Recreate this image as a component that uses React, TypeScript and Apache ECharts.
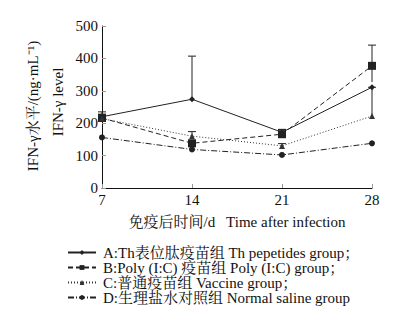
import React, { useEffect, useRef } from "react";
import * as echarts from "echarts";

const days = [7, 14, 21, 28];
const seriesNames = [
  "A:Th表位肽疫苗组 Th pepetides group；",
  "B:Poly (I:C) 疫苗组 Poly (I:C) group；",
  "C:普通疫苗组 Vaccine group；",
  "D:生理盐水对照组 Normal saline group",
];
const valuesA = [220, 274, 172, 311];
const valuesB = [216, 138, 166, 377];
const valuesC = [214, 160, 130, 222];
const valuesD = [156, 119, 102, 138];
// error bars: [day, low, high]
const errA = [[7, 220, 235], [14, 274, 407], [21, 172, 180]];
const errB = [[7, 216, 228], [21, 166, 181], [28, 327, 441]];
const errC = [[14, 160, 174], [21, 130, 137], [28, 222, 311]];
const yTicks = [0, 100, 200, 300, 400, 500];
const xTitle = "免疫后时间/d   Time after infection";
const yTitle1 = "IFN-γ水平/(ng·mL⁻¹)";
const yTitle2 = "IFN-γ level";

const FONT = "Liberation Serif, Noto Serif CJK SC, Noto Sans CJK SC, serif";

export default function App() {
  const ref = useRef<HTMLDivElement>(null);
  useEffect(() => {
    const chart = echarts.init(ref.current!, null, { renderer: "svg" });
    const lineSeries = (name: string, vals: number[], symbol: string, size: number, type: any, color: string) => ({
      name,
      type: "line",
      data: days.map((d, i) => [d, vals[i]]),
      symbol,
      symbolSize: size,
      itemStyle: { color },
      lineStyle: { color, width: 1, type },
      z: 3,
    });
    const errSeries = (data: number[][]) => ({
      type: "custom",
      data,
      z: 2,
      renderItem: (params: any, api: any) => {
        const x = api.value(0);
        const lo = api.coord([x, api.value(1)]);
        const hi = api.coord([x, api.value(2)]);
        const w = 4;
        const st = { stroke: "#222", lineWidth: 1 };
        return {
          type: "group",
          children: [
            { type: "line", shape: { x1: lo[0], y1: lo[1], x2: hi[0], y2: hi[1] }, style: st },
            { type: "line", shape: { x1: hi[0] - w, y1: hi[1], x2: hi[0] + w, y2: hi[1] }, style: st },
          ],
        };
      },
    });
    const txt = (text: string, x: number, y: number, rot: number) => ({
      type: "text",
      x,
      y,
      rotation: rot,
      style: { text, fill: "#111", font: `15px ${FONT}`, align: "center", verticalAlign: "middle" },
    });
    chart.setOption({
      animation: false,
      textStyle: { fontFamily: FONT },
      grid: { left: 102, right: 35, top: 26, bottom: 129, containLabel: false },
      graphic: [
        txt(xTitle, 237, 222, 0),
        txt(yTitle1, 33, 106, Math.PI / 2),
        txt(yTitle2, 58, 102, Math.PI / 2),
      ],
      xAxis: {
        type: "value",
        min: 7,
        max: 28,
        interval: 7,
        axisLine: { lineStyle: { color: "#111", width: 1 } },
        axisTick: { inside: true, length: 4, lineStyle: { color: "#999" } },
        axisLabel: { color: "#111", fontSize: 15, fontFamily: FONT, margin: 4 },
        splitLine: { show: false },
      },
      yAxis: {
        type: "value",
        min: 0,
        max: 500,
        interval: 100,
        axisLine: { show: true, lineStyle: { color: "#111", width: 1 } },
        axisTick: { show: true, inside: true, length: 4, lineStyle: { color: "#999" } },
        axisLabel: { color: "#111", fontSize: 15, fontFamily: FONT, margin: 4, formatter: (v: number) => (yTicks.includes(v) ? String(v) : "") },
        splitLine: { show: false },
      },
      legend: {
        orient: "vertical",
        left: 67,
        top: 245,
        itemWidth: 28,
        itemHeight: 6,
        itemGap: 0,
        padding: 0,
        data: seriesNames,
        textStyle: { color: "#111", fontSize: 15, lineHeight: 13.5, fontFamily: FONT, padding: [0, 0, 0, 2] },
      },
      series: [
        errSeries(errA),
        errSeries(errB),
        errSeries(errC),
        lineSeries(seriesNames[0], valuesA, "diamond", 6, "solid", "#222"),
        lineSeries(seriesNames[1], valuesB, "rect", 8, [5, 3], "#222"),
        lineSeries(seriesNames[2], valuesC, "triangle", 6, [1, 2], "#333"),
        lineSeries(seriesNames[3], valuesD, "circle", 6, [6, 2, 1, 2], "#222"),
      ],
    });
    return () => chart.dispose();
  }, []);
  return <div ref={ref} style={{ width: 407, height: 317, position: "absolute", left: 0, top: 0, background: "#fff" }} />;
}
